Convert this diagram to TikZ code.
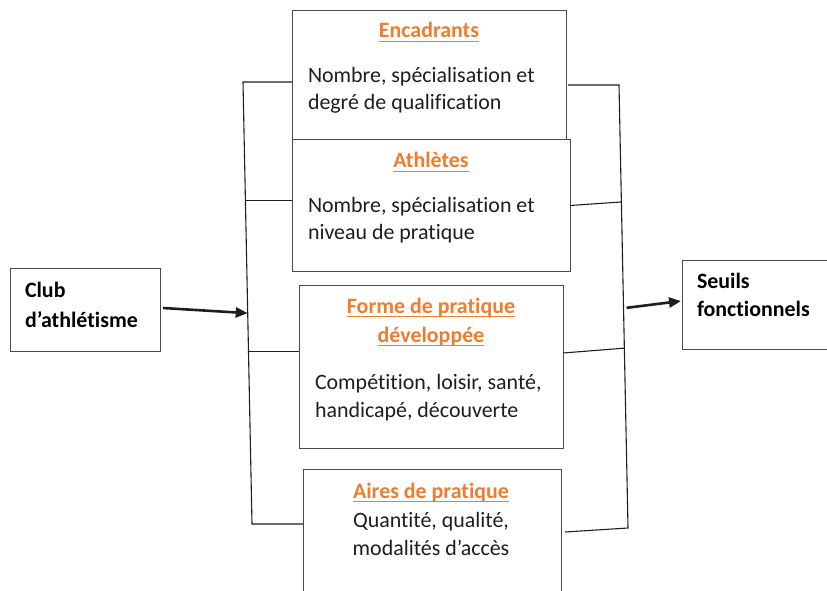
\documentclass[tikz,border=0pt]{standalone}
\usepackage{fontspec}
\setmainfont{Carlito}[Ligatures={NoCommon}]
\usetikzlibrary{arrows.meta,calc}
\definecolor{accent}{HTML}{ED7D31}
\definecolor{ink}{HTML}{1E1E1E}
\definecolor{edge}{HTML}{4A4A4A}
\newcommand\orul[1]{\setbox0=\hbox{#1}\rlap{\rule[-4.2bp]{\wd0}{1.6bp}}\box0}
\begin{document}
\begin{tikzpicture}[x=1bp,y=-1bp,
  font=\fontsize{22}{27}\selectfont,
  box/.style={draw=edge, line width=1bp, fill=white, inner sep=0, outer sep=0, anchor=north west, rectangle},
  txt/.style={inner sep=0, outer sep=0, text=ink, anchor=base west},
  ctxt/.style={inner sep=0, outer sep=0, text=ink, anchor=base},
  btxt/.style={inner sep=0, outer sep=0, text=black, anchor=base west, font=\fontsize{22}{27}\selectfont\bfseries},
  ttl/.style={inner sep=0, outer sep=0, text=accent, anchor=base, font=\fontsize{22}{27}\selectfont\bfseries},
  link/.style={draw=ink, line width=1.1bp},
  arr/.style={draw=ink, line width=2.6bp, -{Triangle[length=12bp,width=10bp]}}]
\useasboundingbox (0,0) rectangle (827,591);

% boxes
\node[box, minimum width=150bp, minimum height=83bp] (club) at (10,268) {};
\node[box, minimum width=274bp, minimum height=129bp] (enc) at (292,11) {};
\node[box, minimum width=278bp, minimum height=131bp] (ath) at (292,140) {};
\node[box, minimum width=264bp, minimum height=163bp] (forme) at (299,285) {};
\node[box, minimum width=258bp, minimum height=131bp] (aires) at (303,469) {};
\node[box, minimum width=148bp, minimum height=89bp] (seuils) at (682,260) {};

% left bracket
\coordinate (lt) at (243,82);
\coordinate (lb) at (252,524);
\coordinate (l2) at ($(lt)!0.269!(lb)$);
\coordinate (l3) at ($(lt)!0.609!(lb)$);
\coordinate (la) at ($(lt)!0.523!(lb)$);
\draw[link] (lt -| enc.west) -- (lt) -- (lb) -- (lb -| aires.west);
\draw[link] (l2) -- (l2 -| ath.west);
\draw[link] (l3) -- (l3 -| forme.west);

% right bracket
\coordinate (rt) at (619,85);
\coordinate (rb) at (628,528);
\coordinate (r2) at ($(rt)!0.264!(rb)$);
\coordinate (r3) at ($(rt)!0.594!(rb)$);
\coordinate (ra) at ($(rt)!0.503!(rb)$);
\draw[link] ($(enc.east)+(2,9.5)$) -- (rt) -- (rb) -- ($(aires.east)+(4,-2.5)$);
\draw[link] (ath.east) -- (r2);
\draw[link] ($(forme.east)+(0,-13.5)$) -- (r3);

% arrows
\draw[arr] ($(club.east)+(3,-1.5)$) -- (la);
\draw[arr] ($(ra)+(3,0)$) -- ($(seuils.west)+(-1,-3.5)$);

% texts
\node[btxt] (club1) at (25,297) {Club};
\node[btxt] (club2) at (25,327) {d’athlétisme};

\node[ttl] (encT) at (429,38) {\orul{Encadrants}};
\node[txt] (enc1) at (308,83) {Nombre, spécialisation et};
\node[txt] (enc2) at (308,110) {degré de qualification};

\node[ttl] (athT) at (431,168) {\orul{Athlètes}};
\node[txt] (ath1) at (308,213) {Nombre, spécialisation et};
\node[txt] (ath2) at (308,240) {niveau de pratique};

\node[ttl] (formeT1) at (431,313) {\orul{Forme de pratique}};
\node[ttl] (formeT2) at (431,342) {\orul{développée}};
\node[txt] (forme1) at (315,389) {Compétition, loisir, santé,};
\node[txt] (forme2) at (315,417) {handicapé, découverte};

\node[ttl] (airesT) at (431,498) {\orul{Aires de pratique}};
\node[ctxt] (aires1) at (431,527) {Quantité, qualité,};
\node[ctxt] (aires2) at (431,555) {modalités d’accès};

\node[btxt] (seuils1) at (697,288) {Seuils};
\node[btxt] (seuils2) at (697,316) {fonctionnels};
\end{tikzpicture}
\end{document}
